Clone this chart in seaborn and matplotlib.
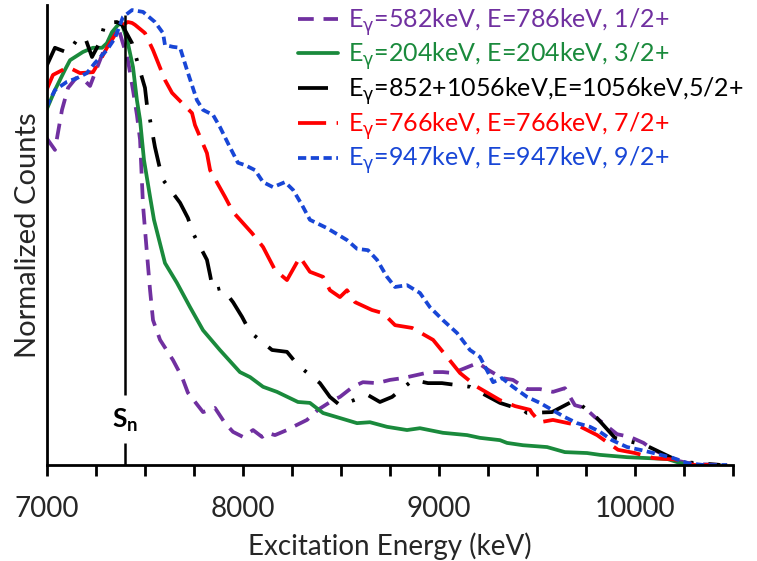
import numpy as np
import pandas as pd
import matplotlib
matplotlib.use("Agg")
import matplotlib.pyplot as plt
import seaborn as sns

# ---------------- data ----------------
purple_x = [7000, 7043, 7079, 7110, 7150, 7191, 7222, 7257, 7293, 7334, 7365, 7415, 7441, 7461,
            7477, 7492, 7512, 7528, 7543, 7579, 7645, 7691, 7721, 7798, 7859, 7910, 7951, 8002,
            8053, 8099, 8124, 8165, 8226, 8257, 8328, 8384, 8461, 8496, 8562, 8613, 8685, 8751,
            8818, 8955, 9021, 9072, 9200, 9251, 9322, 9378, 9450, 9516, 9582, 9643, 9694, 9745,
            9796, 9832, 9909, 9975, 10044, 10079, 10196, 10300, 10470]
purple_y = [0.711, 0.685, 0.772, 0.820, 0.841, 0.837, 0.824, 0.863, 0.902, 0.928, 0.952, 0.880, 0.815, 0.761,
            0.707, 0.565, 0.461, 0.380, 0.315, 0.272, 0.228, 0.191, 0.157, 0.115, 0.124, 0.091, 0.072, 0.061,
            0.076, 0.061, 0.070, 0.065, 0.076, 0.083, 0.098, 0.120, 0.141, 0.148, 0.170, 0.180, 0.178, 0.185,
            0.189, 0.202, 0.202, 0.200, 0.222, 0.207, 0.189, 0.185, 0.165, 0.165, 0.159, 0.167, 0.130, 0.124,
            0.104, 0.093, 0.067, 0.061, 0.048, 0.037, 0.011, 0.002, 0.000]

green_x = [7000, 7043, 7094, 7120, 7186, 7237, 7283, 7308, 7334, 7365, 7385, 7415, 7441, 7461, 7477,
           7497, 7528, 7548, 7604, 7665, 7732, 7798, 7884, 7986, 8038, 8104, 8175, 8282, 8343, 8410,
           8481, 8583, 8649, 8736, 8838, 8904, 9021, 9144, 9210, 9312, 9348, 9429, 9552, 9643, 9756,
           9822, 9960, 10064, 10166, 10232, 10298]
green_y = [0.772, 0.815, 0.859, 0.880, 0.898, 0.907, 0.907, 0.917, 0.941, 0.957, 0.959, 0.917, 0.865, 0.793, 0.750,
           0.663, 0.583, 0.533, 0.439, 0.396, 0.343, 0.293, 0.250, 0.202, 0.191, 0.170, 0.159, 0.137, 0.135, 0.113,
           0.104, 0.091, 0.093, 0.083, 0.076, 0.080, 0.070, 0.065, 0.059, 0.054, 0.048, 0.043, 0.039, 0.028, 0.026,
           0.022, 0.017, 0.015, 0.013, 0.004, 0.000]

black_x = [7000, 7043, 7110, 7161, 7196, 7232, 7273, 7298, 7359, 7385, 7436, 7461, 7502, 7512, 7528,
           7553, 7574, 7594, 7681, 7721, 7747, 7818, 7834, 7849, 7895, 7951, 7997, 8038, 8150, 8226,
           8282, 8394, 8445, 8496, 8639, 8700, 8762, 8869, 8945, 9016, 9159, 9312, 9378, 9429, 9450,
           9577, 9694, 9807, 9898, 10054, 10181, 10232, 10436]
black_y = [0.867, 0.907, 0.896, 0.928, 0.930, 0.887, 0.920, 0.961, 0.963, 0.957, 0.917, 0.880, 0.820, 0.783, 0.750,
           0.691, 0.652, 0.620, 0.570, 0.537, 0.504, 0.446, 0.413, 0.380, 0.385, 0.354, 0.322, 0.289, 0.250, 0.246,
           0.217, 0.178, 0.148, 0.130, 0.152, 0.137, 0.148, 0.185, 0.178, 0.178, 0.170, 0.135, 0.126, 0.120, 0.113,
           0.115, 0.141, 0.102, 0.059, 0.043, 0.017, 0.007, 0.000]

red_x = [7000, 7033, 7110, 7171, 7237, 7283, 7308, 7349, 7390, 7415, 7436, 7451, 7502, 7543, 7604,
         7640, 7742, 7757, 7818, 7834, 7910, 7951, 8048, 8104, 8165, 8226, 8292, 8343, 8410, 8445,
         8496, 8532, 8573, 8659, 8716, 8777, 8864, 8971, 9042, 9108, 9195, 9312, 9389, 9465, 9475,
         9516, 9582, 9659, 9705, 9807, 9914, 10000, 10095, 10232, 10298, 10470]
red_y = [0.815, 0.848, 0.865, 0.852, 0.854, 0.887, 0.907, 0.935, 0.957, 0.963, 0.961, 0.957, 0.939, 0.902, 0.837,
         0.809, 0.765, 0.739, 0.678, 0.641, 0.583, 0.550, 0.504, 0.474, 0.424, 0.402, 0.452, 0.420, 0.409, 0.380,
         0.365, 0.380, 0.354, 0.337, 0.330, 0.304, 0.298, 0.272, 0.235, 0.200, 0.170, 0.141, 0.128, 0.120, 0.113,
         0.093, 0.098, 0.091, 0.087, 0.065, 0.033, 0.026, 0.015, 0.011, 0.000, 0.000]

blue_x = [7000, 7043, 7104, 7155, 7206, 7247, 7308, 7349, 7390, 7436, 7492, 7553, 7594, 7604, 7645,
          7681, 7716, 7767, 7798, 7849, 7884, 7935, 7976, 8012, 8063, 8104, 8155, 8216, 8257, 8303,
          8343, 8430, 8532, 8583, 8639, 8685, 8736, 8777, 8838, 8904, 8955, 9021, 9093, 9159, 9210,
          9277, 9322, 9378, 9450, 9516, 9577, 9643, 9705, 9771, 9822, 9883, 9960, 10026, 10095, 10196,
          10268, 10349, 10470]
blue_y = [0.778, 0.815, 0.833, 0.841, 0.852, 0.874, 0.902, 0.928, 0.974, 0.989, 0.985, 0.963, 0.939, 0.913, 0.909,
          0.907, 0.859, 0.793, 0.772, 0.761, 0.735, 0.691, 0.657, 0.652, 0.641, 0.615, 0.604, 0.615, 0.598, 0.565,
          0.533, 0.515, 0.489, 0.470, 0.467, 0.446, 0.409, 0.387, 0.391, 0.374, 0.343, 0.315, 0.287, 0.250, 0.235,
          0.180, 0.189, 0.170, 0.148, 0.135, 0.120, 0.104, 0.091, 0.083, 0.072, 0.054, 0.039, 0.033, 0.026, 0.015,
          0.004, 0.000, 0.000]

labels = ["E$_\\mathrm{\\gamma}$=582keV, E=786keV, 1/2+",
          "E$_\\mathrm{\\gamma}$=204keV, E=204keV, 3/2+",
          "E$_\\mathrm{\\gamma}$=852+1056keV,E=1056keV,5/2+",
          "E$_\\mathrm{\\gamma}$=766keV, E=766keV, 7/2+",
          "E$_\\mathrm{\\gamma}$=947keV, E=947keV, 9/2+"]
sn_energy = 7400
x_ticks = [7000, 8000, 9000, 10000]

# ---------------- styling ----------------
colors = ["#7030A0", "#1A8A3C", "#000000", "#FF0000", "#1846D6"]
styles = [(0, (4.2, 2.6)), "-", (0, (8, 4, 0.8, 4)), (0, (7.5, 2.8)), (0, (2.2, 1.2))]

sns.set_theme(style="white")
plt.rcParams["font.family"] = ["Lato", "DejaVu Sans"]
plt.rcParams["mathtext.fontset"] = "dejavusans"

fig = plt.figure(figsize=(7.57, 5.61), dpi=100)
ax = fig.add_axes([46.5 / 757, 96 / 561, 686.5 / 757, 460 / 561])

series = [(purple_x, purple_y), (green_x, green_y), (black_x, black_y), (red_x, red_y), (blue_x, blue_y)]
handles = []
for (xs, ys), c, ls, lab in zip(series, colors, styles, labels):
    df = pd.DataFrame({"E": xs, "C": ys})
    sns.lineplot(data=df, x="E", y="C", ax=ax, color=c, linestyle=ls, linewidth=2.7,
                 estimator=None, sort=True, label=lab, legend=False)
    handles.append(ax.get_lines()[-1])

# Sn marker line (with a gap for the label)
ax.plot([sn_energy, sn_energy], [0, 0.048], color="black", lw=1.8, solid_capstyle="butt")
ax.plot([sn_energy, sn_energy], [0.152, 0.978], color="black", lw=1.8, solid_capstyle="butt")
ax.text(sn_energy, 0.098, "S$_\\mathregular{n}$", ha="center", va="center", fontsize=19,
        fontweight="bold", color="black")

ax.set_xlim(7000, 10500)
ax.set_ylim(0, 1)
ax.set_xticks(x_ticks)
ax.set_xticks(np.arange(7000, 10501, 250), minor=True)
ax.set_yticks([])
ax.tick_params(axis="x", which="both", direction="out", length=8, width=2, bottom=True,
               labelsize=20, pad=14, color="black")
for s in ["top", "right"]:
    ax.spines[s].set_visible(False)
for s in ["left", "bottom"]:
    ax.spines[s].set_color("black")
    ax.spines[s].set_linewidth(2)
ax.set_xlabel("Excitation Energy (keV)", fontsize=20, labelpad=8)
ax.set_ylabel("Normalized Counts", fontsize=21, labelpad=4)

leg = ax.legend(handles, labels, loc="upper left", bbox_to_anchor=(298 / 757, 1 - 6 / 561),
                bbox_transform=fig.transFigure, frameon=False, fontsize=18, handlelength=1.6,
                handletextpad=0.4, labelspacing=0.12, borderpad=0, borderaxespad=0)
for t, c in zip(leg.get_texts(), colors):
    t.set_color(c)

fig.savefig("out.png", dpi=100)
